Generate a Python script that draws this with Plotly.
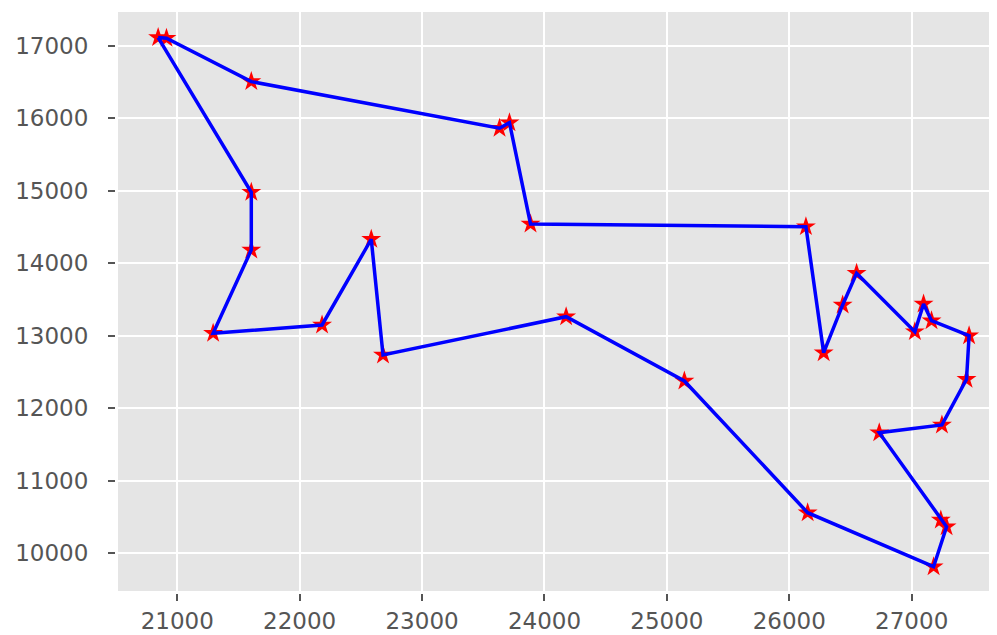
import plotly.graph_objects as go

# Tour order (x, y), closed loop
tour_x = [20844, 20912, 21605, 23633, 23714, 23886, 26136, 26281, 26436, 26550,
          27026, 27097, 27162, 27469, 27448, 27247, 26735, 27238, 27285, 27179,
          26150, 25143, 24177, 22681, 22585, 22183, 21293, 21605, 21605]
tour_y = [17112, 17103, 16505, 15862, 15939, 14542, 14505, 12767, 13425, 13862,
          13057, 13439, 13208, 13001, 12400, 11770, 11663, 10459, 10367, 9815,
          10560, 12377, 13263, 12735, 14331, 13149, 13034, 14183, 14979]

x_ticks = [21000, 22000, 23000, 24000, 25000, 26000, 27000]
y_ticks = [10000, 11000, 12000, 13000, 14000, 15000, 16000, 17000]

line_x = tour_x + [tour_x[0]]
line_y = tour_y + [tour_y[0]]

fig = go.Figure()
fig.add_trace(go.Scatter(
    x=tour_x, y=tour_y, mode="markers",
    marker=dict(symbol="star", size=15, color="red", line=dict(width=0)),
    showlegend=False, hoverinfo="skip"))
fig.add_trace(go.Scatter(
    x=line_x, y=line_y, mode="lines",
    line=dict(color="#0000FF", width=3.5),
    showlegend=False))

axis_common = dict(
    showgrid=True, gridcolor="white", gridwidth=2,
    zeroline=False, showline=True, linecolor="white", linewidth=3,
    ticks="outside", ticklen=7, tickwidth=1.5, tickcolor="#555555",
    tickfont=dict(family="DejaVu Sans", size=23, color="#555555"),
    automargin=False,
)

fig.update_xaxes(range=[20516, 27697], tickvals=x_ticks,
                 ticktext=[str(v) for v in x_ticks], ticklabelstandoff=0,
                 **axis_common)
fig.update_yaxes(range=[9480, 17465], tickvals=y_ticks,
                 ticktext=[str(v) for v in y_ticks], ticklabelstandoff=15,
                 **axis_common)

# page body has an 8px default margin, so the figure is sized to fit
fig.update_layout(
    width=989, height=627,
    margin=dict(l=110, r=0, t=4, b=44, pad=0),
    plot_bgcolor="#E5E5E5", paper_bgcolor="white",
)

fig.write_html("out.html")
